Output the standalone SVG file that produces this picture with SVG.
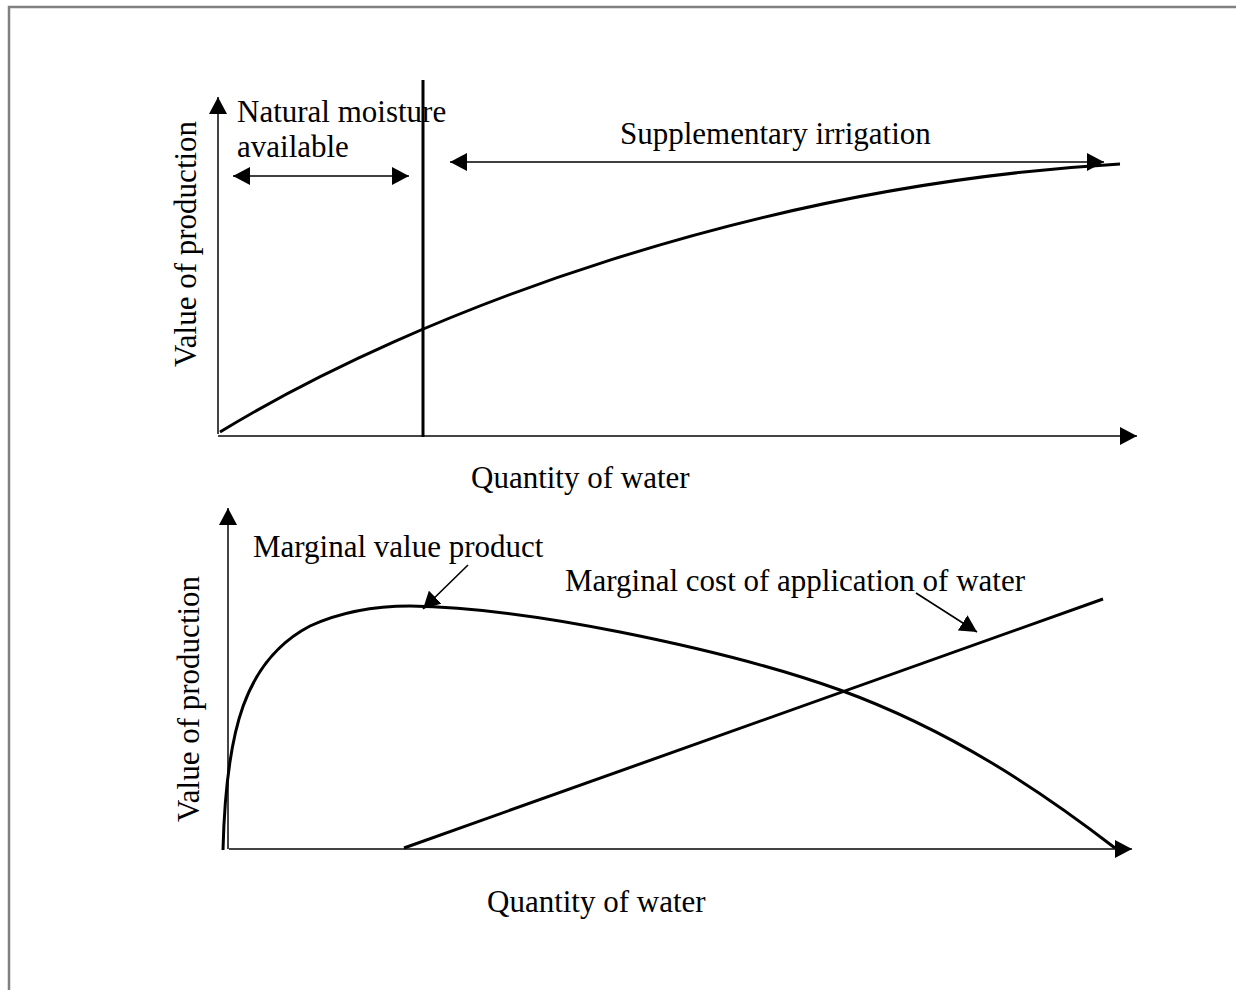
<svg xmlns="http://www.w3.org/2000/svg" width="1236" height="990" viewBox="0 0 1236 990">
<style>
.t{font-family:"Liberation Serif","Times New Roman",serif;font-size:31px;fill:#000}
.ax{stroke:#444;stroke-width:2;fill:none}
.cv{stroke:#000;stroke-width:3;fill:none}
.ld{stroke:#000;stroke-width:1.6;fill:none}
</style>
<defs>
<marker id="ah" markerUnits="userSpaceOnUse" markerWidth="18" markerHeight="18" refX="17" refY="9" orient="auto-start-reverse" viewBox="0 0 18 18">
<path d="M0,0 L17,9 L0,18 z" fill="#000"/>
</marker>
</defs>
<rect x="9" y="7" width="1240" height="1000" fill="#fff" stroke="#808080" stroke-width="2.5"/>
<g id="connectors">
<path class="ax" d="M218,434 V97" marker-end="url(#ah)"/>
<path class="ax" d="M218,436 H1137" marker-end="url(#ah)"/>
<path d="M423,80 V437" stroke="#000" stroke-width="3"/>
<path class="ld" d="M233,176 H409" marker-start="url(#ah)" marker-end="url(#ah)"/>
<path class="ld" d="M450,162 H1104" marker-start="url(#ah)" marker-end="url(#ah)"/>
<path class="ax" d="M228,849 V508" marker-end="url(#ah)"/>
<path class="ax" d="M229,849 H1132" marker-end="url(#ah)"/>
<path class="ld" d="M468,565 L423,609" marker-end="url(#ah)"/>
<path class="ld" d="M916,593 L977,632" marker-end="url(#ah)"/>
</g>
<g id="production-curve">
<path class="cv" d="M220,432 C420,310 760,185 1120,164"/>
</g>
<g id="marginal-value-curve">
<path class="cv" d="M223,850 C226,730 245,660 310,626 C345,610 380,606 410,606 C480,607 560,620 620,632 C720,652 790,672 840,690 C950,730 1040,790 1115,848"/>
</g>
<g id="marginal-cost-line">
<path class="cv" d="M404,848 L1103,599"/>
</g>
<g id="labels">
<text class="t" x="237" y="122">Natural moisture</text>
<text class="t" x="237" y="157">available</text>
<text class="t" x="620" y="144">Supplementary irrigation</text>
<text class="t" transform="translate(196,244) rotate(-90)" text-anchor="middle">Value of production</text>
<text class="t" x="471" y="488">Quantity of water</text>
<text class="t" x="253" y="557">Marginal value product</text>
<text class="t" x="565" y="591">Marginal cost of application of water</text>
<text class="t" transform="translate(199,699) rotate(-90)" text-anchor="middle">Value of production</text>
<text class="t" x="487" y="912">Quantity of water</text>
</g>
</svg>
